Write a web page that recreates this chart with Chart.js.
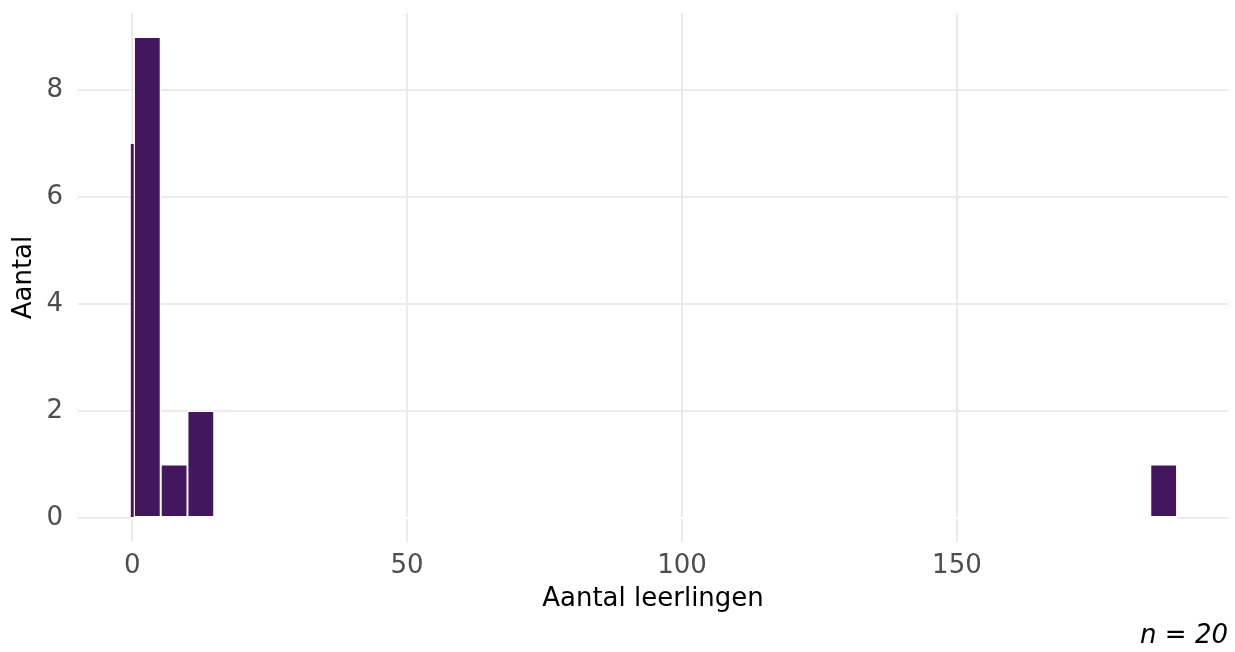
<!DOCTYPE html>
<html>
<head>
<meta charset="utf-8">
<script src="https://cdn.jsdelivr.net/npm/chart.js@4"></script>
<style>
  html, body { margin: 0; padding: 0; background: #ffffff; }
  #wrap { width: 1235px; height: 652px; }
</style>
</head>
<body>
<div id="wrap"><canvas id="c" width="1235" height="652"></canvas></div>
<script>
// ---- data ----
const binCenters = [2.76, 7.63, 12.49, 187.6];   // Aantal leerlingen (bin centres)
const binCounts  = [9, 1, 2, 1];                  // Aantal
const edgeBinX     = [0.03];                      // clipped first bin at the left edge
const edgeBinCount = [7];
const xTickStep = 50;
const yTickStep = 2;
const xTitle = 'Aantal leerlingen';
const yTitle = 'Aantal';
const caption = 'n = 20';

const barColor = '#43165e';
const gridColor = '#ebebeb';
const FONT = '"DejaVu Sans", Verdana, sans-serif';

const xMin = -9.85, xMax = 199.3;
const yMin = -0.45, yMax = 9.45;

const zeroMask = {
  id: 'zeroMask',
  beforeDatasetsDraw(chart) {
    const {ctx, scales} = chart;
    const y0 = scales.y.getPixelForValue(0);
    const xa = scales.x.getPixelForValue(-0.25);
    const xb = scales.x.getPixelForValue(190.03);
    ctx.save();
    ctx.strokeStyle = '#ffffff';
    ctx.lineWidth = 2.5;
    ctx.beginPath();
    ctx.moveTo(xa, y0);
    ctx.lineTo(xb, y0);
    ctx.stroke();
    ctx.restore();
  }
};

const captionPlugin = {
  id: 'captionPlugin',
  afterDraw(chart) {
    const {ctx, chartArea} = chart;
    ctx.save();
    ctx.font = 'italic 26px ' + FONT;
    ctx.fillStyle = '#000000';
    ctx.textAlign = 'right';
    ctx.textBaseline = 'middle';
    ctx.fillText(caption, chartArea.right, 636);
    ctx.restore();
  }
};

function noPad(scale) {
  scale.paddingTop = 0;
  scale.paddingBottom = 0;
  scale.paddingLeft = 0;
  scale.paddingRight = 0;
}

new Chart(document.getElementById('c'), {
  type: 'bar',
  data: {
    datasets: [
      {
        data: binCenters.map((x, i) => ({x: x, y: binCounts[i]})),
        backgroundColor: barColor,
        borderColor: '#ffffff',
        borderWidth: 1.3,
        borderSkipped: false,
        grouped: false,
        barPercentage: 1,
        categoryPercentage: 1,
        xAxisID: 'x',
        yAxisID: 'y'
      },
      {
        data: edgeBinX.map((x, i) => ({x: x, y: edgeBinCount[i]})),
        backgroundColor: barColor,
        borderWidth: 0,
        grouped: false,
        maxBarThickness: 3,
        xAxisID: 'x2',
        yAxisID: 'y'
      }
    ]
  },
  options: {
    responsive: false,
    animation: false,
    events: [],
    layout: { padding: { left: 0, right: 7, top: 13, bottom: 0 } },
    plugins: {
      legend: { display: false },
      tooltip: { enabled: false }
    },
    scales: {
      x: {
        type: 'linear',
        position: 'bottom',
        offset: false,
        min: xMin, max: xMax,
        afterFit(scale) { scale.height = 110; noPad(scale); },
        grid: { color: gridColor, lineWidth: 2, drawTicks: false, offset: false },
        border: { display: false },
        ticks: {
          stepSize: xTickStep,
          includeBounds: false,
          padding: 9,
          color: '#4d4d4d',
          font: { family: FONT, size: 26 },
          maxRotation: 0,
          autoSkip: false
        },
        title: {
          display: true,
          text: xTitle,
          color: '#000000',
          font: { family: FONT, size: 26 },
          padding: { top: 0, bottom: 37 }
        }
      },
      x2: {
        type: 'linear',
        display: false,
        offset: false,
        min: xMin, max: xMax
      },
      y: {
        type: 'linear',
        position: 'left',
        min: yMin, max: yMax,
        afterFit(scale) { scale.width = 78; noPad(scale); },
        grid: { color: gridColor, lineWidth: 2, drawTicks: false },
        border: { display: false },
        ticks: {
          stepSize: yTickStep,
          includeBounds: false,
          padding: 15,
          color: '#4d4d4d',
          font: { family: FONT, size: 26 }
        },
        title: {
          display: true,
          text: yTitle,
          color: '#000000',
          font: { family: FONT, size: 26 },
          padding: { top: 9, bottom: 0 }
        }
      }
    }
  },
  plugins: [zeroMask, captionPlugin]
});
</script>
</body>
</html>
